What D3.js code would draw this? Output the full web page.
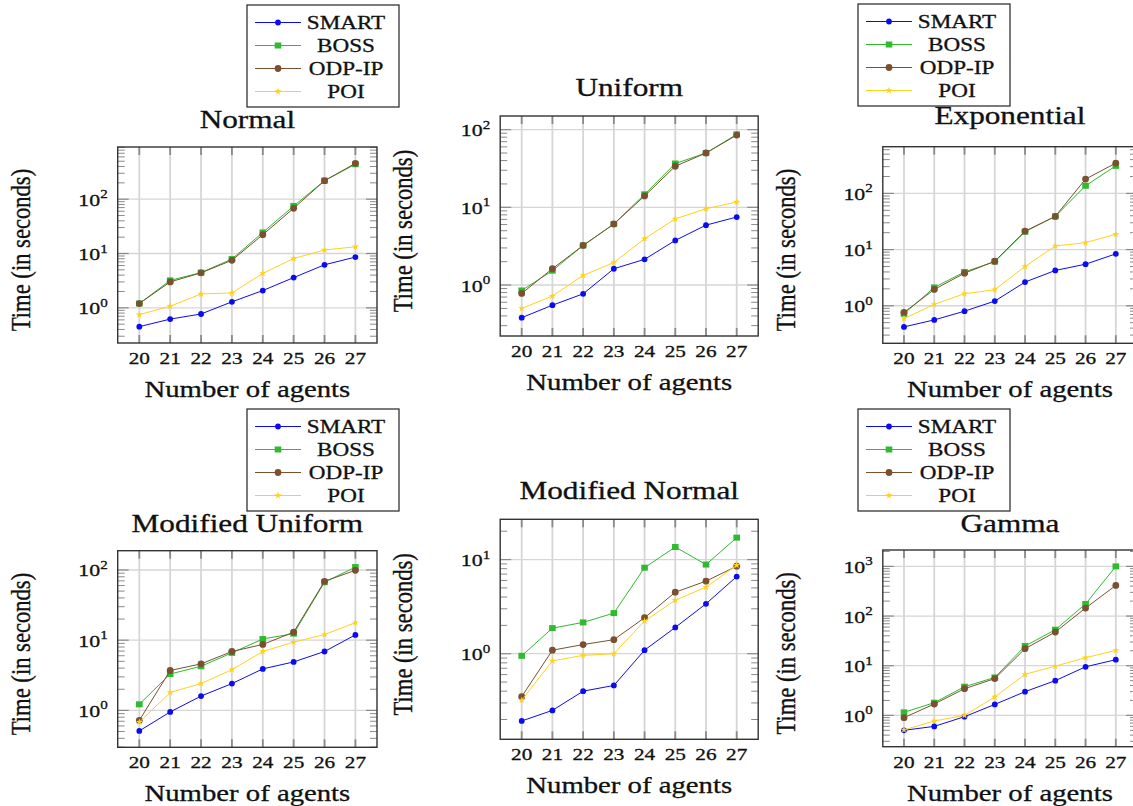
<!DOCTYPE html>
<html>
<head>
<meta charset="utf-8">
<script src="https://cdn.jsdelivr.net/npm/d3@7"></script>
<style>
  body { margin: 0; background: #fff; }
  text { font-family: "Liberation Serif", "Times New Roman", serif; fill: #111; stroke: #111; stroke-width: 0.3px; }
</style>
</head>
<body>
<div id="chart"></div>
<script>
// agents on the x axis
var agents = [20, 21, 22, 23, 24, 25, 26, 27];
var seriesNames = ["SMART", "BOSS", "ODP-IP", "POI"];
var seriesColors = ["#0b0bf0", "#2fba2f", "#7a5030", "#ffd21a"];

// Normal
var normalSMART = [0.45, 0.62, 0.77, 1.29, 2.08, 3.6, 6.2, 8.6];
var normalBOSS  = [1.2, 3.2, 4.45, 7.9, 24.4, 75, 219, 440];
var normalODP   = [1.2, 3.0, 4.4, 7.5, 22.2, 68, 219, 457];
var normalPOI   = [0.75, 1.07, 1.8, 1.88, 4.3, 8.1, 11.6, 13.3];
// Uniform
var uniformSMART = [0.38, 0.55, 0.77, 1.62, 2.14, 3.75, 5.9, 7.5];
var uniformBOSS  = [0.85, 1.53, 3.23, 6.1, 14.7, 36.6, 50, 87];
var uniformODP   = [0.78, 1.62, 3.23, 6.1, 14, 33.8, 50, 85];
var uniformPOI   = [0.5, 0.72, 1.33, 1.95, 3.94, 7.1, 9.6, 11.7];
// Exponential
var expSMART = [0.42, 0.56, 0.8, 1.21, 2.64, 4.25, 5.5, 8.4];
var expBOSS  = [0.72, 2.12, 4.0, 6.1, 20.8, 39, 137, 310];
var expODP   = [0.76, 1.95, 3.8, 6.2, 21.3, 39, 180, 347];
var expPOI   = [0.59, 1.06, 1.64, 1.93, 5.0, 11.6, 13.3, 18.8];
// Modified Uniform
var modUniSMART = [0.51, 0.95, 1.6, 2.41, 3.9, 4.9, 6.9, 11.9];
var modUniBOSS  = [1.22, 3.3, 4.25, 6.6, 10.4, 12.4, 67, 110];
var modUniODP   = [0.72, 3.7, 4.6, 6.9, 8.7, 13, 69, 99];
var modUniPOI   = [0.68, 1.8, 2.41, 3.8, 6.9, 9.4, 12.0, 17.8];
// Modified Normal
var modNormSMART = [0.193, 0.25, 0.4, 0.46, 1.09, 1.9, 3.39, 6.6];
var modNormBOSS  = [0.95, 1.87, 2.15, 2.7, 8.2, 13.6, 8.85, 17.1];
var modNormODP   = [0.35, 1.09, 1.25, 1.41, 2.41, 4.5, 5.9, 8.5];
var modNormPOI   = [0.32, 0.84, 0.96, 1.0, 2.22, 3.7, 5.1, 8.7];
// Gamma
var gammaSMART = [0.5, 0.6, 0.94, 1.66, 3.0, 5.0, 9.5, 13.2];
var gammaBOSS  = [1.15, 1.8, 3.78, 5.8, 24.9, 53, 175, 1000];
var gammaODP   = [0.9, 1.69, 3.44, 5.5, 22, 47.6, 145, 414];
var gammaPOI   = [0.51, 0.77, 1.0, 2.34, 6.7, 9.8, 14.5, 20.4];

var panels = [
  { title: "Normal", series: [normalSMART, normalBOSS, normalODP, normalPOI],
    x0: 117.7, x1: 377, y0: 147, y1: 343, titleY: 128, legend: [247, 5] },
  { title: "Uniform", series: [uniformSMART, uniformBOSS, uniformODP, uniformPOI],
    x0: 500.2, x1: 758.2, y0: 116, y1: 336, titleY: 96 },
  { title: "Exponential", series: [expSMART, expBOSS, expODP, expPOI],
    x0: 882.8, x1: 1137, y0: 146.7, y1: 343.3, titleY: 124, legend: [858, 4] },
  { title: "Modified Uniform", series: [modUniSMART, modUniBOSS, modUniODP, modUniPOI],
    x0: 117.7, x1: 377, y0: 550.7, y1: 747.3, titleY: 532, legend: [247, 409] },
  { title: "Modified Normal", series: [modNormSMART, modNormBOSS, modNormODP, modNormPOI],
    x0: 500.2, x1: 758.2, y0: 519.3, y1: 739.3, titleY: 498.5 },
  { title: "Gamma", series: [gammaSMART, gammaBOSS, gammaODP, gammaPOI],
    x0: 882.8, x1: 1137, y0: 550, y1: 746.7, titleY: 532, legend: [858, 409] }
];

var SX = 1.25; // the reference text is stretched sideways
var W = 1133, H = 806;

var svg = d3.select("#chart").append("svg")
  .attr("width", W).attr("height", H);

// stretched text helper
function label(g, x, y, str, size, anchor, rotate) {
  var t = g.append("g")
    .attr("transform", "translate(" + x + "," + y + ") scale(" + SX + ",1)" + (rotate ? " rotate(-90)" : ""))
    .append("text")
    .attr("text-anchor", anchor || "middle")
    .style("font-size", size + "px");
  if (str !== null) t.text(str);
  return t;
}

function marker(g, i, x, y, color) {
  if (i === 0) {
    g.append("circle").attr("cx", x).attr("cy", y).attr("r", 2.9).attr("fill", color);
  } else if (i === 1) {
    g.append("rect").attr("x", x - 3.3).attr("y", y - 3).attr("width", 6.6).attr("height", 6).attr("fill", color);
  } else if (i === 2) {
    g.append("circle").attr("cx", x).attr("cy", y).attr("r", 3.4).attr("fill", color);
  } else {
    g.append("path").attr("transform", "translate(" + x + "," + y + ")")
      .attr("d", d3.symbol().type(d3.symbolStar).size(16)()).attr("fill", color);
  }
}

panels.forEach(function (p) {
  var g = svg.append("g");

  var xScale = d3.scaleLinear().domain([19.3, 27.7]).range([p.x0, p.x1]);

  // log domain = data extent enlarged by 10% on each side
  var all = d3.merge(p.series);
  var lo = Math.log10(d3.min(all)), hi = Math.log10(d3.max(all));
  var pad = (hi - lo) * 0.1;
  var yScale = d3.scaleLog().domain([Math.pow(10, lo - pad), Math.pow(10, hi + pad)]).range([p.y1, p.y0]);

  var decades = d3.range(Math.ceil(lo - pad), Math.floor(hi + pad) + 1);
  var minors = [];
  d3.range(Math.floor(lo - pad), Math.ceil(hi + pad) + 1).forEach(function (k) {
    for (var m = 2; m <= 9; m++) {
      var v = m * Math.pow(10, k);
      if (v > yScale.domain()[0] && v < yScale.domain()[1]) minors.push(v);
    }
  });

  // grid
  g.selectAll(".vg").data(agents).enter().append("line")
    .attr("x1", d => xScale(d)).attr("x2", d => xScale(d))
    .attr("y1", p.y0).attr("y2", p.y1)
    .attr("stroke", "#d6d6d6").attr("stroke-width", 1.8);
  g.selectAll(".hg").data(decades).enter().append("line")
    .attr("x1", p.x0).attr("x2", p.x1)
    .attr("y1", d => yScale(Math.pow(10, d))).attr("y2", d => yScale(Math.pow(10, d)))
    .attr("stroke", "#d6d6d6").attr("stroke-width", 1.3);

  // ticks inside the box, both sides
  var tickCol = "#8a8a8a";
  agents.forEach(function (a) {
    var x = xScale(a);
    g.append("line").attr("x1", x).attr("x2", x).attr("y1", p.y0).attr("y2", p.y0 + 8)
      .attr("stroke", tickCol).attr("stroke-width", 1.8);
    g.append("line").attr("x1", x).attr("x2", x).attr("y1", p.y1).attr("y2", p.y1 - 8)
      .attr("stroke", tickCol).attr("stroke-width", 1.8);
  });
  decades.forEach(function (d) {
    var y = yScale(Math.pow(10, d));
    g.append("line").attr("x1", p.x0).attr("x2", p.x0 + 11).attr("y1", y).attr("y2", y)
      .attr("stroke", tickCol).attr("stroke-width", 1.2);
    g.append("line").attr("x1", p.x1).attr("x2", p.x1 - 11).attr("y1", y).attr("y2", y)
      .attr("stroke", tickCol).attr("stroke-width", 1.2);
  });
  minors.forEach(function (v) {
    var y = yScale(v);
    g.append("line").attr("x1", p.x0).attr("x2", p.x0 + 7).attr("y1", y).attr("y2", y)
      .attr("stroke", tickCol).attr("stroke-width", 1);
    g.append("line").attr("x1", p.x1).attr("x2", p.x1 - 7).attr("y1", y).attr("y2", y)
      .attr("stroke", tickCol).attr("stroke-width", 1);
  });

  // series
  var line = d3.line().x((d, i) => xScale(agents[i])).y(d => yScale(d));
  p.series.forEach(function (vals, si) {
    g.append("path").datum(vals).attr("d", line)
      .attr("fill", "none").attr("stroke", seriesColors[si]).attr("stroke-width", 1);
    vals.forEach(function (v, i) { marker(g, si, xScale(agents[i]), yScale(v), seriesColors[si]); });
  });

  // box
  g.append("rect").attr("x", p.x0).attr("y", p.y0)
    .attr("width", p.x1 - p.x0).attr("height", p.y1 - p.y0)
    .attr("fill", "none").attr("stroke", "#333").attr("stroke-width", 1.4);

  // tick labels
  agents.forEach(function (a) {
    label(g, xScale(a), p.y1 + 21, String(a), 17, "middle");
  });
  decades.forEach(function (d) {
    var t = label(g, p.x0 - 10, yScale(Math.pow(10, d)) + 6.5, null, 17.5, "end");
    t.append("tspan").text("10");
    t.append("tspan").attr("dy", -7.5).style("font-size", "12px").text(String(d));
  });

  // titles and axis labels
  label(g, (p.x0 + p.x1) / 2, p.titleY, p.title, 25, "middle");
  label(g, (p.x0 + p.x1) / 2, p.y1 + 54, "Number of agents", 23, "middle");
  label(g, p.x0 - 88, (p.y0 + p.y1) / 2 + 5, "Time (in seconds)", 22.6, "middle", true);

  // legend
  if (p.legend) {
    var lx = p.legend[0], ly = p.legend[1];
    var lg = svg.append("g");
    lg.append("rect").attr("x", lx).attr("y", ly).attr("width", 152).attr("height", 102)
      .attr("fill", "#fff").attr("stroke", "#222").attr("stroke-width", 1.2);
    seriesNames.forEach(function (name, i) {
      var yy = ly + 17.5 + i * 23;
      lg.append("line").attr("x1", lx + 8).attr("x2", lx + 54).attr("y1", yy).attr("y2", yy)
        .attr("stroke", seriesColors[i]).attr("stroke-width", 1.2);
      marker(lg, i, lx + 31, yy, seriesColors[i]);
      label(lg, lx + 99, yy + 6.5, name, 18.5, "middle");
    });
  }
});
</script>
</body>
</html>
